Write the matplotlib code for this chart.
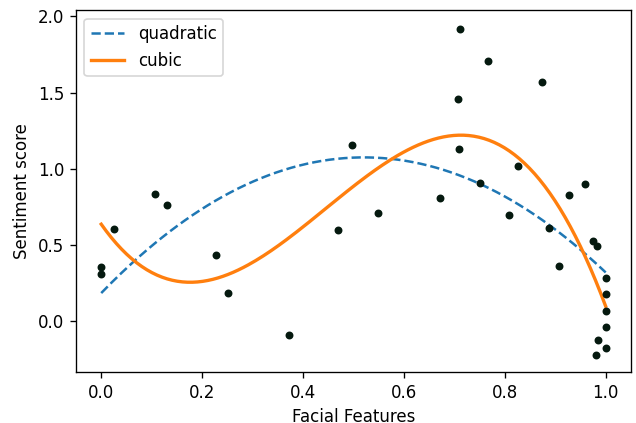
import numpy as np
import matplotlib
matplotlib.use("Agg")
import matplotlib.pyplot as plt

# Observed facial-feature scores and sentiment
facial = [0.000, 0.000, 0.025, 0.107, 0.130, 0.228, 0.251, 0.372, 0.469, 0.498,
          0.549, 0.671, 0.711, 0.707, 0.709, 0.767, 0.750, 0.808, 0.826, 0.874,
          0.888, 0.908, 0.927, 0.959, 0.975, 0.983, 1.000, 1.000, 1.000, 1.000,
          0.984, 1.000, 0.981]
sentiment = [0.356, 0.306, 0.603, 0.837, 0.761, 0.437, 0.182, -0.090, 0.599, 1.159,
             0.708, 0.807, 1.917, 1.456, 1.132, 1.705, 0.905, 0.695, 1.018, 1.569,
             0.612, 0.361, 0.826, 0.903, 0.527, 0.492, 0.284, 0.175, 0.066, -0.041,
             -0.122, -0.175, -0.221]

x = np.array(facial)
y = np.array(sentiment)

# Polynomial fits
quad = np.polyfit(x, y, 2)
cub = np.polyfit(x, y, 3)
xs = np.linspace(0, 1, 200)

DPI = 120
fig = plt.figure(figsize=(636 / DPI, 423 / DPI), dpi=DPI)
ax = fig.add_axes([0.1195, 0.1206, 0.8725, 0.855])
ax.scatter(x, y, s=14, color="#05190f", zorder=3)
ax.plot(xs, np.polyval(quad, xs), "--", color="#1f77b4", lw=1.5, label="quadratic")
ax.plot(xs, np.polyval(cub, xs), "-", color="#ff7f0e", lw=2, label="cubic")
ax.set_xlabel("Facial Features")
ax.set_ylabel("Sentiment score")
ax.set_ylim(-0.334, 2.04)
ax.legend(loc="upper left")
fig.savefig("out.png", dpi=DPI)
